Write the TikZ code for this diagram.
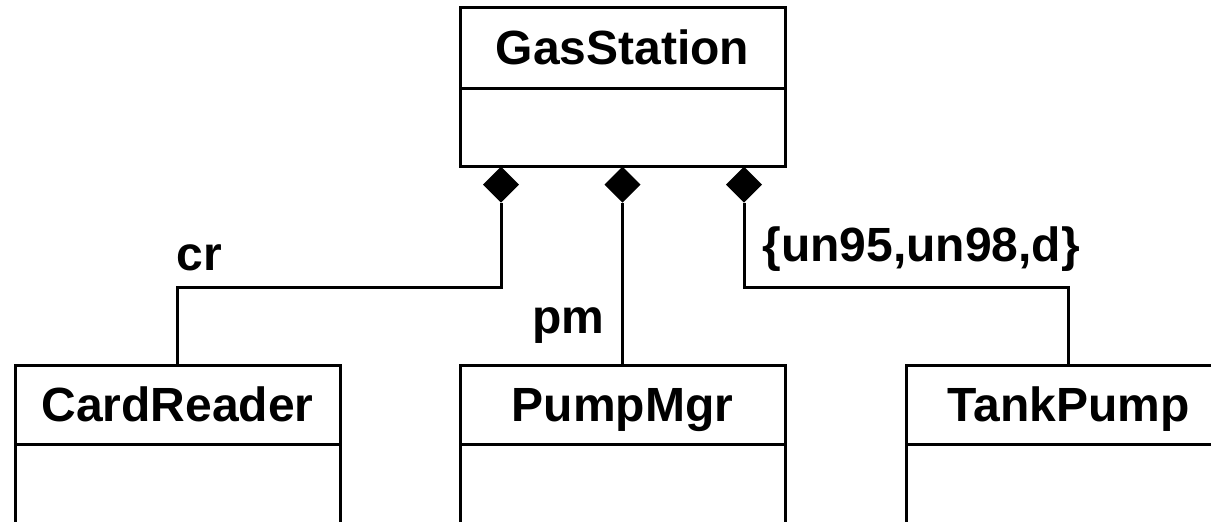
\documentclass[tikz,border=0pt]{standalone}
\usepackage{fontspec}
\setmainfont{Liberation Sans}
\usetikzlibrary{
    positioning,
    shapes.geometric
}

\begin{document}
\begin{tikzpicture}[
        x=0.5pt, y=-0.5pt,
        line width=1.5pt,
        classname/.style={
            rectangle,
            draw,
            outer sep=0pt,
            minimum width=162.5pt,
            minimum height=#1,
            text height=17pt,
            text depth=0pt,
            font=\fontsize{24}{28}\selectfont\bfseries
        },
        classbody/.style={
            rectangle,
            draw,
            outer sep=0pt,
            minimum width=162.5pt,
            minimum height=#1
        },
        compo/.style={
            diamond,
            fill=black,
            inner sep=0pt,
            outer sep=0pt,
            minimum width=18pt,
            minimum height=18pt
        },
        role/.style={
            anchor=base west,
            inner sep=0pt,
            font=\fontsize{24}{28}\selectfont\bfseries
        }
    ]
    \useasboundingbox (0,0) rectangle (1211,521);
    \clip (0,0) rectangle (1211,521);

    % classes
    \node[classname=40.5pt] (gsName) at (622.5,47.5) {GasStation};
    \node[classbody=39pt, below=0pt of gsName] (gsBody) {};
    \node[classname=39.5pt] (crName) at (177.5,404.5) {CardReader};
    \node[classbody=50pt, below=0pt of crName] (crBody) {};
    \node[classname=39.5pt] (pmName) at (622.5,404.5) {PumpMgr};
    \node[classbody=50pt, below=0pt of pmName] (pmBody) {};
    \node[classname=39.5pt] (tpName) at (1068.5,404.5) {TankPump};
    \node[classbody=50pt, below=0pt of tpName] (tpBody) {};

    % composition diamonds
    \node[compo] (dCR) at (501,184.5) {};
    \node[compo] (dPM) at (622.5,184.5) {};
    \node[compo] (dTP) at (744,184.5) {};

    % connectors
    \coordinate (elbow) at (0,287);
    \draw (dCR.south) -- (dCR.south |- elbow) -| (crName.north);
    \draw (dPM.south) -- (pmName.north);
    \draw (dTP.south) -- (dTP.south |- elbow) -| (tpName.north);

    % role names
    \node[role] (crRole) at (175,270) {cr};
    \node[role] (pmRole) at (531,333) {pm};
    \node[role] (tpRole) at (761,261) {\{un95,un98,d\}};
\end{tikzpicture}
\end{document}
